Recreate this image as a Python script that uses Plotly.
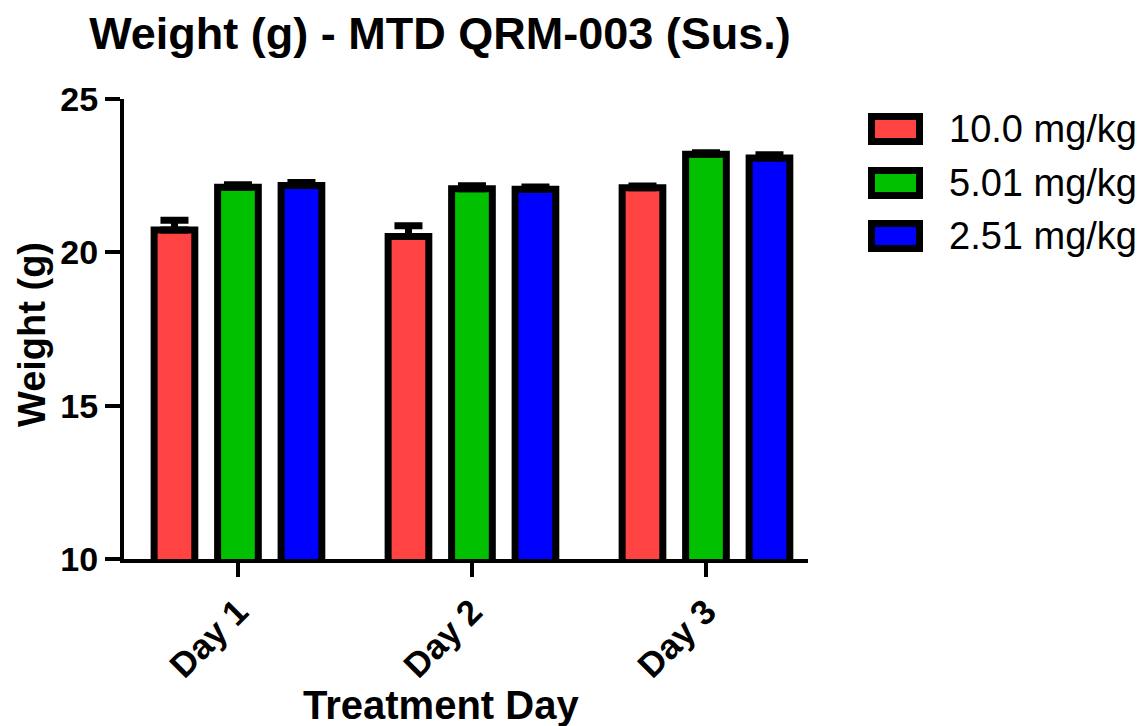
import plotly.graph_objects as go

# ---- data ----
days = ["Day 1", "Day 2", "Day 3"]
series_names = ["10.0 mg/kg", "5.01 mg/kg", "2.51 mg/kg"]
dose_10 = [20.73, 20.52, 22.11]
dose_10_sem = [0.32, 0.35, 0.05]
dose_5 = [22.12, 22.07, 23.20]
dose_5_sem = [0.08, 0.10, 0.05]
dose_2 = [22.18, 22.06, 23.08]
dose_2_sem = [0.10, 0.07, 0.10]
y_ticks = [10, 15, 20, 25]

colors = ["#FF4242", "#00C000", "#0000FF"]
values = [dose_10, dose_5, dose_2]
errors = [dose_10_sem, dose_5_sem, dose_2_sem]

FONT = "Liberation Sans"
W_PX, H_PX = 1145, 726
L, R, T, B = 124, 337, 99, 167
PW, PH = W_PX - L - R, H_PX - T - B


def px_x(px):
    return (px - L) / PW


def px_y(py):
    return 1 - (py - T) / PH


fig = go.Figure()
for name, vals, errs, col in zip(series_names, values, errors, colors):
    fig.add_trace(go.Bar(
        x=days, y=vals, name=name,
        marker=dict(color=col, line=dict(color="black", width=7)),
        error_y=dict(type="data", symmetric=False, array=errs,
                     arrayminus=[0] * len(errs), color="black",
                     thickness=7, width=14),
        showlegend=False,
    ))

fig.update_layout(
    width=W_PX, height=H_PX,
    margin=dict(l=L, r=R, t=T, b=B),
    plot_bgcolor="white", paper_bgcolor="white",
    barmode="group", bargap=0.186, bargroupgap=0.359,
    title=dict(text="Weight (g) - MTD QRM-003 (Sus.)",
               x=440 / W_PX, xanchor="center", y=1 - 33 / H_PX, yanchor="middle",
               font=dict(family=FONT, size=45, color="black", weight="bold")),
    font=dict(family=FONT, color="black"),
)

fig.update_yaxes(
    range=[10, 25], tickvals=y_ticks, ticktext=[str(v) for v in y_ticks],
    showgrid=False, zeroline=False,
    showline=True, linecolor="black", linewidth=4,
    ticks="outside", ticklen=15, tickwidth=4, tickcolor="black",
    tickfont=dict(family=FONT, size=34, color="black", weight="bold"),
)
fig.update_xaxes(
    range=[-0.487, 2.436],
    showgrid=False, zeroline=False,
    showline=True, linecolor="black", linewidth=4,
    ticks="outside", ticklen=14, tickwidth=4, tickcolor="black",
    tickangle=-45,
    tickfont=dict(family=FONT, size=35, color="black", weight="bold"),
)

annotations = [
    dict(text="Treatment Day", x=px_x(441), y=px_y(705), xref="paper", yref="paper",
         xanchor="center", yanchor="middle", showarrow=False,
         font=dict(family=FONT, size=40, color="black", weight="bold")),
    dict(text="Weight (g)", x=px_x(32), y=px_y(335), xref="paper", yref="paper",
         xanchor="center", yanchor="middle", showarrow=False, textangle=-90,
         font=dict(family=FONT, size=38, color="black", weight="bold")),
]

shapes = []
legend_centers = [129, 183, 236]
for name, col, cy in zip(series_names, colors, legend_centers):
    shapes.append(dict(type="rect", xref="paper", yref="paper",
                       x0=px_x(868 + 3.5), x1=px_x(923 - 3.5),
                       y0=px_y(cy - 16 + 3.5), y1=px_y(cy + 16 - 3.5),
                       fillcolor=col, line=dict(color="black", width=7)))
    annotations.append(dict(text=name, x=px_x(947), y=px_y(cy), xref="paper", yref="paper",
                            xanchor="left", yanchor="middle", showarrow=False,
                            font=dict(family=FONT, size=38, color="black")))

fig.update_layout(shapes=shapes, annotations=annotations)

fig.write_html("out.html")
